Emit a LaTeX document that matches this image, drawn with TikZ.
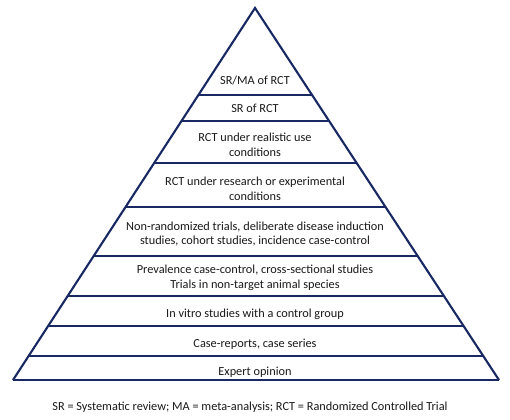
\documentclass[tikz,border=0pt]{standalone}
\usepackage{fontspec}
\setmainfont{Carlito}
\usetikzlibrary{calc}
\definecolor{pyrNavy}{RGB}{24,40,98}
\definecolor{pyrText}{RGB}{25,25,25}
\tikzset{
  pyrside/.style={line width=1.2pt, pyrNavy, line join=miter},
  pyrline/.style={line width=0.85pt, pyrNavy},
  pyrbase/.style={line width=1.3pt, pyrNavy},
  tier/.style={font=\fontsize{7}{8.5}\selectfont, text=pyrText, align=center, inner sep=0pt},
}

\begin{document}
\begin{tikzpicture}[x=0.02cm, y=-0.02cm]
    \useasboundingbox (0,0) rectangle (510,419);
    % ----- outline -----
    \coordinate (apex) at (255,8);
    \coordinate (bl) at (13,380);
    \coordinate (br) at (499,380);
    \draw[pyrside] (bl) -- (apex) -- (br);
    \draw[pyrbase] (bl) -- (br);
    % ----- tier borders -----
    \foreach \y in {95,121,163,207,256,296,326,356}
      \draw[pyrline] ($(apex)!{(\y-8)/372}!(bl)$) -- ($(apex)!{(\y-8)/372}!(br)$);
    % ----- tiers, top to bottom -----
    \node[tier] (srma)   at (255,80)  {SR/MA of RCT};
    \node[tier] (sr)     at (255,108) {SR of RCT};
    \node[tier] (rctuse) at (255,145) {RCT under realistic use\\conditions};
    \node[tier] (rctexp) at (255,189) {RCT under research or experimental\\conditions};
    \node[tier] (nonrct) at (255,234) {Non-randomized trials, deliberate disease induction\\studies, cohort studies, incidence case-control};
    \node[tier] (preval) at (255,278) {Prevalence case-control, cross-sectional studies\\Trials in non-target animal species};
    \node[tier] (vitro)  at (255,314) {In vitro studies with a control group};
    \node[tier] (cases)  at (255,344) {Case-reports, case series};
    \node[tier] (expert) at (255,372) {Expert opinion};
    % ----- legend -----
    \node[tier] (legend) at (250,407) {SR = Systematic review; MA = meta-analysis; RCT = Randomized Controlled Trial};
\end{tikzpicture}
\end{document}
